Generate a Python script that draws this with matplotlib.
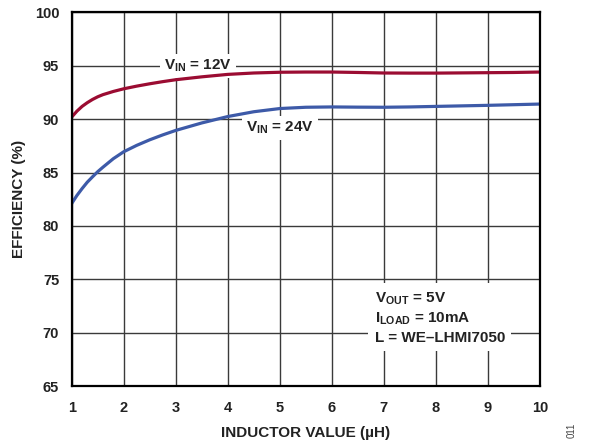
import matplotlib
matplotlib.use("Agg")
import matplotlib.pyplot as plt

plt.rcParams['font.family'] = ['Liberation Sans', 'DejaVu Sans']
plt.rcParams['mathtext.fontset'] = 'custom'
plt.rcParams['mathtext.rm'] = 'Liberation Sans:bold'
plt.rcParams['mathtext.it'] = 'Liberation Sans:bold'
plt.rcParams['mathtext.bf'] = 'Liberation Sans:bold'

# Data
inductance = [1.0, 1.1, 1.2, 1.3, 1.4, 1.5, 1.6, 1.8, 2.0, 2.25, 2.5, 2.75, 3.0, 3.5,
              4.0, 4.5, 5.0, 5.5, 6.0, 6.5, 7.0, 7.5, 8.0, 8.5, 9.0, 9.5, 10.0]
eff_12v = [90.2, 90.75, 91.2, 91.55, 91.85, 92.1, 92.3, 92.6, 92.85, 93.1, 93.32, 93.52, 93.7, 93.97,
           94.2, 94.33, 94.4, 94.42, 94.42, 94.38, 94.33, 94.32, 94.32, 94.34, 94.36, 94.38, 94.42]
eff_24v = [82.1, 82.85, 83.5, 84.1, 84.6, 85.08, 85.5, 86.3, 86.95, 87.55, 88.07, 88.53, 88.95, 89.65,
           90.25, 90.7, 91.0, 91.12, 91.15, 91.13, 91.12, 91.15, 91.2, 91.25, 91.3, 91.36, 91.42]

x_ticks = [1, 2, 3, 4, 5, 6, 7, 8, 9, 10]
y_ticks = [65, 70, 75, 80, 85, 90, 95, 100]

fig = plt.figure(figsize=(5.89, 4.46), dpi=100)
ax = fig.add_axes([0.1217, 0.1345, 0.9168 - 0.1217, 0.972 - 0.1345])

ax.plot(inductance, eff_12v, color='#9B0C32', lw=2.3, solid_capstyle='butt', zorder=3)
ax.plot(inductance, eff_24v, color='#3D5AA8', lw=2.3, solid_capstyle='butt', zorder=3)

ax.set_xlim(1, 10)
ax.set_ylim(65, 100)
ax.set_xticks(x_ticks)
ax.set_yticks(y_ticks)
ax.set_xticklabels([str(t) for t in x_ticks], fontsize=10.5, fontweight='bold')
ax.set_yticklabels([str(t) for t in y_ticks], fontsize=10.5, fontweight='bold')
ax.tick_params(axis='both', length=0, colors='#222222')
ax.tick_params(axis='x', pad=11)
ax.tick_params(axis='y', pad=9)
ax.grid(True, color='#3a3a3a', lw=1.0)
ax.set_axisbelow(True)
for s in ax.spines.values():
    s.set_linewidth(1.6)
    s.set_color('black')
    s.set_zorder(4)

ax.set_xlabel('INDUCTOR VALUE (µH)', fontsize=11, fontweight='bold', color='#222222', labelpad=8)
ax.set_ylabel('EFFICIENCY (%)', fontsize=11, fontweight='bold', color='#222222', labelpad=6)

bb = dict(boxstyle='square,pad=0.25', fc='white', ec='none')
ax.text(3.43, 95.0, r'V$_{\mathrm{IN}}$ = 12V', fontsize=11, fontweight='bold',
        ha='center', va='center', bbox=bb, zorder=2, color='#222222')
ax.text(5.0, 89.2, r'V$_{\mathrm{IN}}$ = 24V', fontsize=11, fontweight='bold',
        ha='center', va='center', bbox=bb, zorder=2, color='#222222')
ax.text(6.82, 71.4, 'V$_{\\mathrm{OUT}}$ = 5V\nI$_{\\mathrm{LOAD}}$ = 10mA\nL = WE–LHMI7050',
        fontsize=11, fontweight='bold', ha='left', va='center', linespacing=1.3,
        bbox=dict(boxstyle='square,pad=0.4', fc='white', ec='none'), zorder=2, color='#222222')

fig.text(0.971, 0.035, '011', rotation=90, fontsize=7, color='#444444', ha='center', va='center')

fig.savefig('out.png', dpi=100)
